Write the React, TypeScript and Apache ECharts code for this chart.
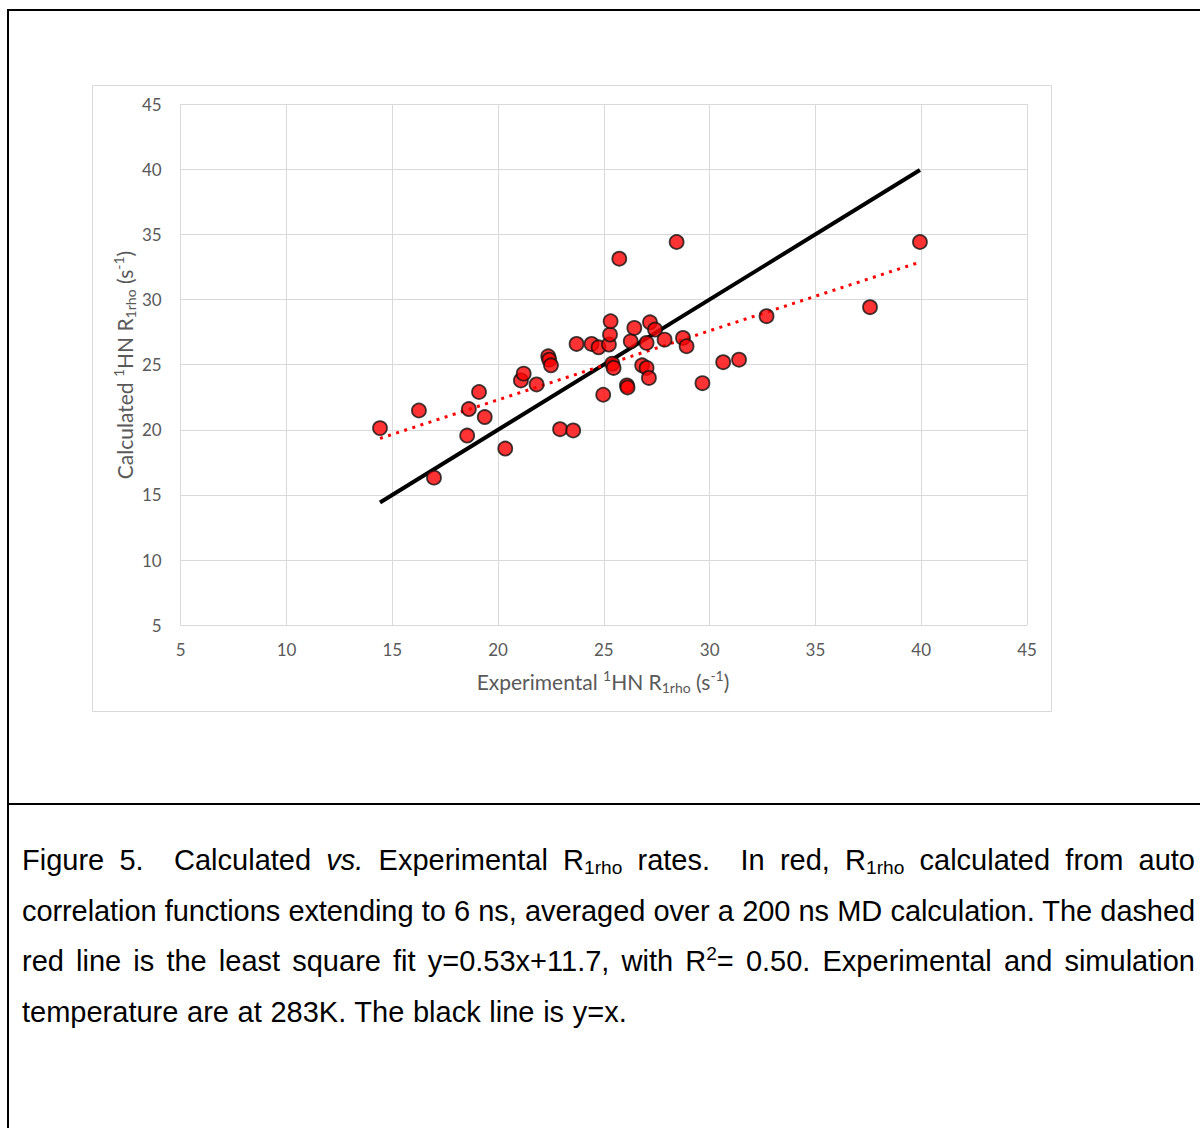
import React, { useEffect, useRef } from "react";
import * as echarts from "echarts";

// Experimental vs calculated 1HN R1rho rates (s^-1)
const experimental = [
  14.42, 16.26, 16.97, 18.54, 18.62, 19.1, 19.37, 20.34, 21.08, 21.21, 21.82, 22.37,
  22.42, 22.5, 22.93, 23.55, 23.71, 24.42, 24.75, 24.97, 25.24, 25.29, 25.32, 25.4,
  25.46, 25.73, 26.09, 26.12, 26.27, 26.44, 26.81, 27.02, 27.02, 27.13, 27.18, 27.42,
  27.87, 28.44, 28.74, 28.91, 29.66, 30.64, 31.39, 32.69, 37.58, 39.94,
];
const calculated = [
  20.13, 21.48, 16.33, 19.56, 21.59, 22.9, 20.98, 18.56, 23.79, 24.31, 23.48, 25.64,
  25.38, 24.95, 20.05, 19.95, 26.59, 26.59, 26.33, 22.69, 26.54, 27.31, 28.33, 25.08,
  24.75, 33.13, 23.41, 23.25, 26.79, 27.82, 24.95, 24.75, 26.67, 23.98, 28.25, 27.69,
  26.92, 34.41, 27.05, 26.41, 23.58, 25.19, 25.38, 28.72, 29.41, 34.41,
];

// Least-squares fit stated in the caption: y = 0.53x + 11.7
const fitSlope = 0.53;
const fitIntercept = 11.7;

const axisMin = 5;
const axisMax = 45;
const axisStep = 5;

const LABEL_COLOR = "#595959";
const GRID_COLOR = "#d9d9d9";
const AXIS_FONT = "Lato, 'Open Sans', sans-serif";

function Chart() {
  const ref = useRef<HTMLDivElement | null>(null);

  useEffect(() => {
    if (!ref.current) return;
    const chart = echarts.init(ref.current, undefined, { renderer: "svg" });
    const xLo = Math.min(...experimental);
    const xHi = Math.max(...experimental);
    const points = experimental.map((x, i) => [x, calculated[i]]);

    const titleRich = {
      sup: { fontSize: 14, fontFamily: AXIS_FONT, fill: LABEL_COLOR, verticalAlign: "top", lineHeight: 26 },
      sub: { fontSize: 14, fontFamily: AXIS_FONT, fill: LABEL_COLOR, verticalAlign: "bottom", lineHeight: 26 },
    };

    const axisCommon = {
      type: "value" as const,
      min: axisMin,
      max: axisMax,
      interval: axisStep,
      axisLine: { show: false },
      axisTick: { show: false },
      splitLine: { show: true, lineStyle: { color: GRID_COLOR, width: 1 } },
    };

    chart.setOption({
      animation: false,
      grid: { left: 88.7, right: 26, top: 19, bottom: 87.7 },
      xAxis: {
        ...axisCommon,
        axisLabel: { color: LABEL_COLOR, fontSize: 17, fontFamily: AXIS_FONT, margin: 16 },
      },
      yAxis: {
        ...axisCommon,
        axisLabel: { color: LABEL_COLOR, fontSize: 17, fontFamily: AXIS_FONT, margin: 19 },
      },
      series: [
        {
          type: "line",
          data: [
            [xLo, xLo],
            [xHi, xHi],
          ],
          symbol: "none",
          lineStyle: { color: "#000000", width: 4 },
          z: 2,
        },
        {
          type: "line",
          data: [
            [xLo, fitSlope * xLo + fitIntercept],
            [xHi, fitSlope * xHi + fitIntercept],
          ],
          symbol: "none",
          lineStyle: { color: "#ff0000", width: 3, type: [3, 5.5] },
          z: 3,
        },
        {
          type: "scatter",
          data: points,
          symbol: "circle",
          symbolSize: 14,
          itemStyle: { color: "#ff0000", borderColor: "#111111", borderWidth: 1.8 },
          z: 4,
        },
      ],
      graphic: [
        {
          type: "rect",
          silent: true,
          z: -10,
          shape: { x: 0.5, y: 0.5, width: 959, height: 626 },
          style: { fill: "none", stroke: GRID_COLOR, lineWidth: 1 },
        },
        {
          type: "text",
          x: 511,
          y: 596,
          style: {
            text: "Experimental {sup|1}HN R{sub|1rho} (s{sup|-1})",
            fontSize: 21,
            fontFamily: AXIS_FONT,
            fill: LABEL_COLOR,
            lineHeight: 26,
            align: "center",
            verticalAlign: "middle",
            rich: titleRich,
          },
        },
        {
          type: "text",
          x: 32,
          y: 280,
          rotation: Math.PI / 2,
          style: {
            text: "Calculated {sup|1}HN R{sub|1rho} (s{sup|-1})",
            fontSize: 21,
            fontFamily: AXIS_FONT,
            fill: LABEL_COLOR,
            lineHeight: 26,
            align: "center",
            verticalAlign: "middle",
            rich: titleRich,
          },
        },
      ],
    });

    return () => chart.dispose();
  }, []);

  return (
    <div
      ref={ref}
      style={{ position: "absolute", left: 92, top: 85, width: 961, height: 628 }}
    />
  );
}

const subStyle: React.CSSProperties = {
  fontSize: "0.66em",
  verticalAlign: "-0.22em",
  lineHeight: 0,
};
const supStyle: React.CSSProperties = {
  fontSize: "0.66em",
  verticalAlign: "0.55em",
  lineHeight: 0,
};

const lineJustified: React.CSSProperties = {
  textAlign: "justify",
  textAlignLast: "justify",
  height: 50.5,
};

export default function App() {
  return (
    <div
      style={{
        position: "absolute",
        left: 0,
        top: 0,
        width: 1200,
        height: 1128,
        overflow: "hidden",
        background: "#ffffff",
      }}
    >
      {/* table frame: top and left rules, and the rule between chart and caption */}
      <div
        style={{
          position: "absolute",
          left: 7,
          top: 9,
          width: 1300,
          height: 1300,
          borderTop: "2px solid #000",
          borderLeft: "2px solid #000",
          boxSizing: "border-box",
        }}
      />
      <div
        style={{ position: "absolute", left: 7, top: 803, width: 1300, height: 2, background: "#000" }}
      />

      <Chart />

      <div
        style={{
          position: "absolute",
          left: 22,
          top: 835,
          width: 1173,
          fontFamily: "'Liberation Sans', Arial, sans-serif",
          fontSize: 29,
          lineHeight: "50.5px",
          color: "#000",
        }}
      >
        <div style={lineJustified}>
          Figure 5.&nbsp; Calculated <i>vs.</i> Experimental R<span style={subStyle}>1rho</span> rates.&nbsp; In
          red, R<span style={subStyle}>1rho</span> calculated from auto
        </div>
        <div style={{ ...lineJustified, letterSpacing: "-0.08px" }}>
          correlation functions extending to 6 ns, averaged over a 200 ns MD calculation. The dashed
        </div>
        <div style={lineJustified}>
          red line is the least square fit y=0.53x+11.7, with R<span style={supStyle}>2</span>= 0.50. Experimental and
          simulation
        </div>
        <div style={{ height: 50.5, wordSpacing: "0.6px" }}>temperature are at 283K. The black line is y=x.</div>
      </div>
    </div>
  );
}
